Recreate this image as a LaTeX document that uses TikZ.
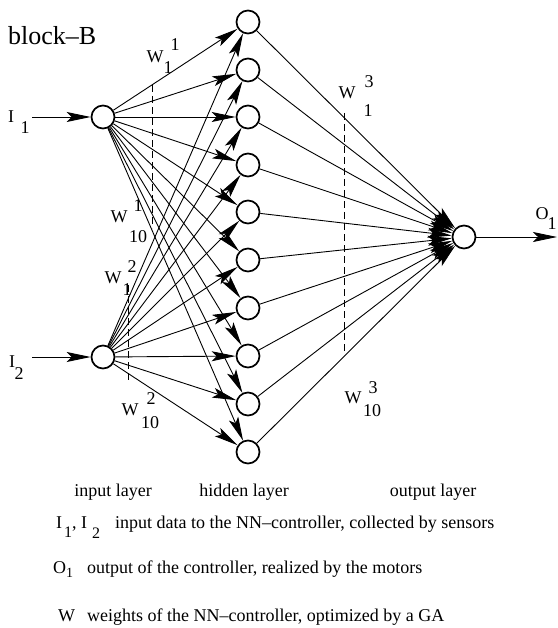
\documentclass[tikz,border=0pt]{standalone}
\usepackage{fontspec}
\setmainfont{Liberation Serif}
\usetikzlibrary{arrows.meta}
\tikzset{
  neuron/.style={circle, draw, line width=1.7pt, minimum size=23pt, inner sep=0pt},
  arr/.style={line width=0.9pt, -{Stealth[length=24pt, width=10pt, inset=5pt]}},
  dashline/.style={line width=0.9pt, dash pattern=on 7pt off 4pt},
  lbl/.style={inner sep=0pt, font=\fontsize{18}{18}\selectfont},
  big/.style={inner sep=0pt, font=\fontsize{26}{26}\selectfont},
}
\begin{document}
\begin{tikzpicture}[x=1pt,y=-1pt]
\useasboundingbox (0,0) rectangle (557,628);
% nodes
\node[neuron] (i1) at (103,117) {};
\node[neuron] (i2) at (103,357) {};
\foreach \k/\yy in {1/22,2/70,3/117,4/165,5/212,6/260,7/308,8/356,9/404,10/452}
  \node[neuron] (h\k) at (248,\yy) {};
\node[neuron] (o) at (464,237) {};
\coordinate (in1) at (32,117);
\coordinate (in2) at (32,357);
\coordinate (out) at (557,237);
% connectors
\draw[arr] (in1) -- (i1);
\draw[arr] (in2) -- (i2);
\foreach \k in {1,...,10} {
  \draw[arr] (i1) -- (h\k);
  \draw[arr] (i2) -- (h\k);
  \draw[arr] (h\k) -- (o);
}
\draw[arr] (o) -- (out);
% dashed separators
\coordinate (d1a) at (152,85);  \coordinate (d1b) at (152,228);
\coordinate (d2a) at (128,285); \coordinate (d2b) at (128,380);
\coordinate (d3a) at (344,113); \coordinate (d3b) at (344,355);
\draw[dashline] (d1a) -- (d1b);
\draw[dashline] (d2a) -- (d2b);
\draw[dashline] (d3a) -- (d3b);
% labels
\node[big, anchor=base west] (blk) at (8,45) {block--B};
\node[lbl] (lI1) at (11,117) {I};  \node[lbl] (lI1s) at (25,128) {1};
\node[lbl] (lI2) at (12,362) {I};  \node[lbl] (lI2s) at (19,374) {2};
\node[lbl] (lO) at (542,214) {O};  \node[lbl] (lOs) at (552,224) {1};
% weights
\node[lbl] (w11) at (155,57) {W};  \node[lbl] at (175,45) {1}; \node[lbl] at (168,68) {1};
\node[lbl] (w110) at (119,217) {W}; \node[lbl] at (138,206) {1}; \node[lbl] at (138,237) {10};
\node[lbl] (w21) at (113,278) {W}; \node[lbl] at (132,267) {2}; \node[lbl] at (127,290) {1};
\node[lbl] (w210) at (130,410) {W}; \node[lbl] at (151,399) {2}; \node[lbl] at (150,423) {10};
\node[lbl] (w31) at (347,93) {W};  \node[lbl] at (369,82) {3}; \node[lbl] at (368,111) {1};
\node[lbl] (w310) at (353,398) {W}; \node[lbl] at (373,388) {3}; \node[lbl] at (372,411) {10};
% layer names
\node[lbl, anchor=base] (l1) at (113,496) {input layer};
\node[lbl, anchor=base] (l2) at (244,496) {hidden layer};
\node[lbl, anchor=base] (l3) at (433,496) {output layer};
% legend
\node[lbl, anchor=base west] (k1) at (56,528) {I\hspace{2pt}\raisebox{-9pt}{\fontsize{16}{16}\selectfont 1}, I\hspace{5pt}\raisebox{-10pt}{\fontsize{16}{16}\selectfont 2}};
\node[lbl, anchor=base west] (t1) at (115,528) {input data to the NN--controller, collected by sensors};
\node[lbl, anchor=base west] (k2) at (53,573) {O\raisebox{-4pt}{\fontsize{14}{14}\selectfont 1}};
\node[lbl, anchor=base west] (t2) at (87,573) {output of the controller, realized by the motors};
\node[lbl, anchor=base west] (k3) at (58,621) {W};
\node[lbl, anchor=base west] (t3) at (87,621) {weights of the NN--controller, optimized by a GA};
\end{tikzpicture}
\end{document}
